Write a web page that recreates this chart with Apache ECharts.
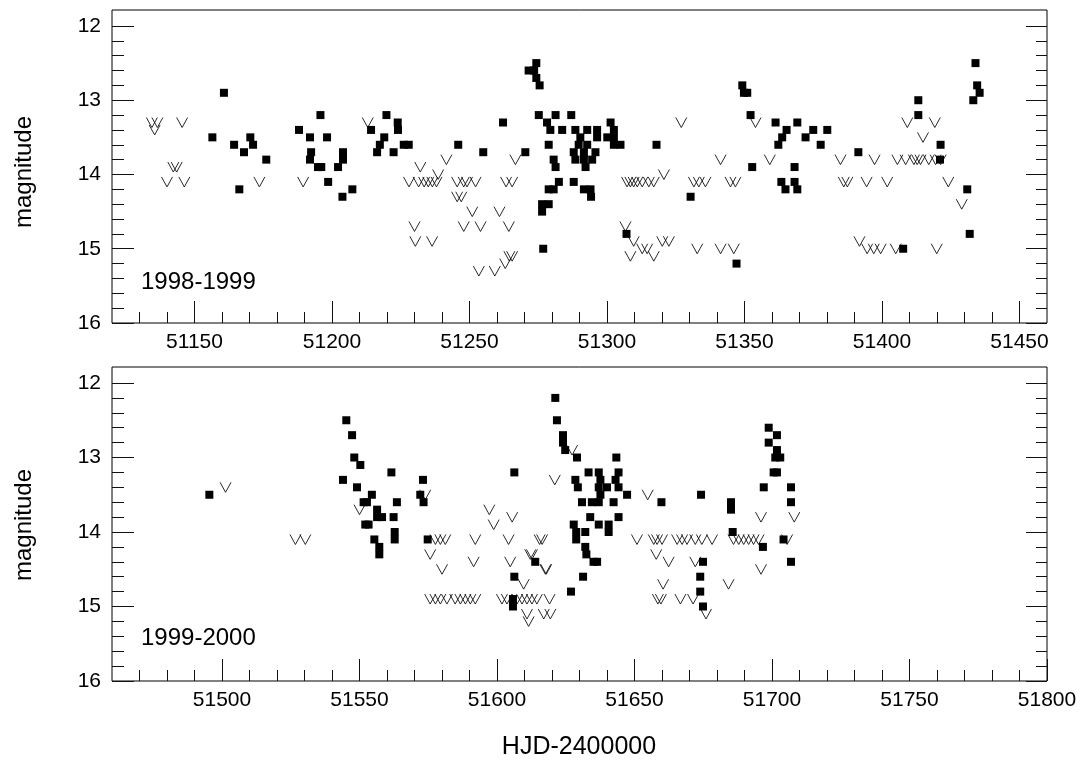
<!DOCTYPE html>
<html>
<head>
<meta charset="utf-8">
<script src="https://cdn.jsdelivr.net/npm/echarts@6/dist/echarts.min.js"></script>
<style>
html,body{margin:0;padding:0;background:#fff;}
#chart{width:1083px;height:766px;}
</style>
</head>
<body>
<div id="chart"></div>
<script>
// ---- Data (HJD-2400000, magnitude) ----
const detections1998 = [
[51156.5,13.5],[51160.7,12.9],[51164.4,13.6],[51166.3,14.2],[51168,13.7],[51170.3,13.5],[51171.3,13.6],[51176.1,13.8],
[51188,13.4],[51192,13.5],[51192.4,13.7],[51192,13.8],[51195.8,13.2],[51194.9,13.9],[51196.1,13.9],[51198.2,13.5],[51198.6,14.1],[51202.2,13.9],[51204,13.7],[51204,13.8],[51203.8,14.3],[51207.4,14.2],
[51219.8,13.2],[51223.9,13.3],[51214.2,13.4],[51224,13.4],[51219,13.5],[51217.4,13.6],[51216.4,13.7],[51222.4,13.7],[51226.1,13.6],[51227.9,13.6],
[51245.9,13.6],[51255,13.7],[51262.2,13.3],[51270.3,13.7],
[51271.5,12.6],[51273.5,12.6],[51274.3,12.5],[51274.3,12.7],[51275.5,12.8],
[51275.2,13.2],[51281.3,13.2],[51287,13.2],[51278.2,13.3],[51279.4,13.4],[51283.7,13.4],[51288.5,13.4],[51278.8,13.6],[51280.6,13.8],[51281.3,13.9],[51282.5,14.1],[51280.6,14.2],[51278.8,14.2],[51287.9,14.1],[51276.4,14.4],[51278.8,14.4],[51276.4,14.5],[51276.8,15.0],
[51292.8,13.4],[51296.4,13.4],[51301.3,13.3],[51302.5,13.4],[51290.3,13.5],[51296.4,13.5],[51300.1,13.5],[51302.5,13.5],[51289.7,13.6],[51292.8,13.6],[51302.5,13.6],[51304.9,13.6],[51287.9,13.7],[51291.6,13.7],[51295.8,13.7],[51288.5,13.8],[51291.6,13.8],[51294.6,13.8],[51292.2,13.9],[51291.6,14.2],[51294,14.2],[51294.2,14.3],
[51318,13.6],[51330.4,14.3],[51307.1,14.8],[51347.1,15.2],[51349.2,12.8],[51349.8,12.9],[51351,12.9],[51352.2,13.2],[51352.8,13.9],
[51361.3,13.3],[51365.3,13.4],[51363.7,13.5],[51362.3,13.6],[51369.2,13.3],[51372.2,13.5],[51368.2,13.9],[51363.4,14.1],[51364.9,14.2],[51368.2,14.1],[51369.2,14.2],
[51375,13.4],[51380.1,13.4],[51377.7,13.6],[51391.4,13.7],[51407.7,15.0],[51413.2,13.0],[51413.2,13.2],[51421.3,13.6],[51421.1,13.8],
[51431,14.2],[51431.9,14.8],[51433.2,13.0],[51434,12.5],[51434.6,12.8],[51435.5,12.9]
];
const upperLimits1998 = [
[51134.5,13.3],[51136.5,13.3],[51135.5,13.4],[51145.5,13.3],[51142.3,13.9],[51143.5,13.9],[51140,14.1],[51146.3,14.1],[51173.6,14.1],[51189.5,14.1],
[51213,13.3],[51241.6,13.8],[51232.1,13.9],[51238.6,14.0],
[51228,14.1],[51231.5,14.1],[51233.5,14.1],[51235,14.1],[51236.5,14.1],[51238,14.1],
[51245.5,14.1],[51247.9,14.1],[51249.1,14.1],[51252.2,14.1],[51263.3,14.1],[51265.5,14.1],
[51245.5,14.3],[51247,14.3],[51251,14.5],[51260.9,14.5],[51230,14.7],[51247.9,14.7],[51254,14.7],[51264.3,14.7],[51230.3,14.9],[51236.4,14.9],
[51253.4,15.3],[51259.2,15.3],[51263,15.2],[51264.5,15.1],[51265.5,15.1],[51266.7,13.8],
[51327,13.3],[51354,13.3],[51341.3,13.8],[51359.2,13.8],[51320.7,14.0],
[51307.3,14.1],[51308.5,14.1],[51309.7,14.1],[51311,14.1],[51312.8,14.1],[51315.2,14.1],[51317,14.1],
[51331.6,14.1],[51333.4,14.1],[51335.8,14.1],[51344.9,14.1],[51346.7,14.1],
[51306.7,14.7],[51309.7,14.9],[51312.8,15.0],[51314.6,15.0],[51308.5,15.1],[51317,15.1],[51320.1,14.9],[51322.5,14.9],[51332.8,15.0],[51341.3,15.0],[51346.1,15.0],
[51409.2,13.3],[51419.2,13.3],[51414.9,13.5],[51384.9,13.8],[51397.3,13.8],
[51405.6,13.8],[51408.6,13.8],[51411.6,13.8],[51412.8,13.8],[51414,13.8],[51417,13.8],[51419.5,13.8],[51421.3,13.8],
[51386.1,14.1],[51387.4,14.1],[51394.4,14.1],[51401.9,14.1],[51424.1,14.1],[51429,14.4],
[51391.8,14.9],[51394.6,15.0],[51397,15.0],[51399.5,15.0],[51405,15.0],[51419.9,15.0]
];
const detections1999 = [
[51495.4,13.5],
[51545.2,12.5],[51547.3,12.7],[51548.1,13.0],[51550.3,13.1],[51544,13.3],[51549.1,13.4],[51554.5,13.5],[51551.5,13.6],[51552.7,13.6],[51556.4,13.7],[51556.4,13.8],[51558.2,13.8],[51552.1,13.9],[51553.3,13.9],[51555.4,14.1],[51557.2,14.2],[51557.2,14.3],[51561.6,13.2],[51562.4,13.8],[51562.8,14.0],[51562.8,14.1],[51563.6,13.6],
[51573.1,13.3],[51572.1,13.5],[51573.3,13.6],[51574.8,14.1],
[51613.9,14.4],[51606.3,14.6],[51605.8,14.9],[51605.8,15.0],[51606.3,13.2],
[51621.2,12.2],[51621.8,12.5],[51624,12.7],[51624,12.8],[51624.8,12.9],[51629.1,13.0],[51628.5,13.3],[51629.4,13.4],[51627.9,13.9],[51628.8,14.0],[51628.8,14.1],[51626.9,14.8],
[51643.4,13.0],[51633.3,13.2],[51637,13.2],[51644.2,13.2],[51637.6,13.3],[51643.1,13.3],[51637,13.4],[51640,13.4],[51644.2,13.4],[51637.6,13.5],[51647.3,13.5],[51630.9,13.6],[51634.5,13.6],[51637,13.6],[51642.4,13.6],[51633.9,13.8],[51644.2,13.8],[51637,13.9],[51640.6,13.9],[51632.1,14.0],[51640.6,14.0],[51632.1,14.2],[51632.5,14.3],[51635.1,14.4],[51636.4,14.4],[51631.3,14.6],
[51659.8,13.6],[51674.2,13.5],[51674.9,14.4],[51673.9,14.6],[51673.9,14.8],[51674.9,15.0],
[51685.1,13.6],[51685.1,13.7],[51685.7,14.0],[51696.7,14.2],[51697,13.4],
[51698.8,12.6],[51701.8,12.7],[51698.8,12.8],[51701.8,12.9],[51701.2,13.0],[51703,13.0],[51700.6,13.2],[51701.8,13.2],[51706.9,13.4],[51706.9,13.6],[51704.2,14.1],[51706.9,14.4]
];
const upperLimits1999 = [
[51501.3,13.4],[51526.7,14.1],[51530.3,14.1],[51550,13.7],[51573.9,13.5],
[51577.6,14.1],[51579.4,14.1],[51581.2,14.1],[51575.7,14.3],[51580,14.5],[51592.1,14.1],[51591.5,14.4],[51604.2,14.1],[51604.8,14.4],[51597.2,13.7],[51605.5,13.8],[51598.8,13.9],
[51615.5,14.1],[51616.4,14.1],[51612.1,14.3],[51612.7,14.3],[51617.6,14.5],[51617.9,14.5],[51609.7,14.7],
[51575.7,14.9],[51577.6,14.9],[51579.4,14.9],[51581.8,14.9],[51584.8,14.9],[51586.7,14.9],[51588.5,14.9],[51590.3,14.9],[51592.1,14.9],
[51601.8,14.9],[51603.6,14.9],[51607.3,14.9],[51609.1,14.9],[51610.9,14.9],[51612.7,14.9],[51614.5,14.9],[51619.1,14.9],[51610.9,15.1],[51611.5,15.2],[51617,15.1],[51619.4,15.1],
[51621,13.3],[51627.3,12.9],
[51654.8,13.5],[51650.9,14.1],[51657,14.1],[51658.2,14.1],[51660,14.1],[51665.5,14.1],[51667.3,14.1],[51669.1,14.1],[51672.1,14.1],[51674.5,14.1],[51678.2,14.1],
[51657.9,14.3],[51662.4,14.4],[51672.1,14.4],[51676,15.1],[51660.4,14.7],[51658.5,14.9],[51659.6,14.9],[51666.7,14.9],[51671.3,14.9],[51684.2,14.7],
[51686,14.1],[51687.9,14.1],[51689.7,14.1],[51691.5,14.1],[51693.3,14.1],[51695.1,14.1],[51696,13.8],[51696,14.5],[51705.5,14.1],[51708.1,13.8]
];

// ---- Axis ranges and tick labels ----
const xRangeTop = [51120, 51460];
const xRangeBottom = [51460, 51800];
const xMajorTop = [51150, 51200, 51250, 51300, 51350, 51400, 51450];
const xMajorBottom = [51500, 51550, 51600, 51650, 51700, 51750, 51800];
const yRange = [11.785, 16];
const yMajor = [12, 13, 14, 15, 16];
const yMinor = [12.2,12.4,12.6,12.8,13.2,13.4,13.6,13.8,14.2,14.4,14.6,14.8,15.2,15.4,15.6,15.8];
const panelLabels = ['1998-1999', '1999-2000'];

function stepList(a, b, s) { const r = []; for (let v = a; v <= b + 1e-9; v += s) r.push(v); return r; }
const xMinorTop = stepList(51130, 51450, 10);
const xMinorBottom = stepList(51470, 51790, 10);

const FONT = "'Liberation Sans', Arial, Helvetica, sans-serif";
const tickLine = { color: '#111', width: 1 };
const plainNum = function (v) { return String(Math.round(v)); };

function xAxisPair(gi, range, major, minor) {
  return [
    { type: 'value', gridIndex: gi, min: range[0], max: range[1], position: 'bottom',
      axisLine: { show: false }, splitLine: { show: false },
      axisTick: { show: true, inside: true, length: 22, customValues: major, lineStyle: tickLine },
      axisLabel: { show: true, customValues: major, formatter: plainNum, margin: 9, fontSize: 21, color: '#000', fontFamily: FONT, showMinLabel: true, showMaxLabel: true } },
    { type: 'value', gridIndex: gi, min: range[0], max: range[1], position: 'bottom',
      axisLine: { show: false }, splitLine: { show: false },
      axisTick: { show: true, inside: true, length: 11, customValues: minor, lineStyle: tickLine },
      axisLabel: { show: false } }
  ];
}
function yAxes(gi) {
  const base = { type: 'value', gridIndex: gi, min: yRange[0], max: yRange[1], inverse: true,
    axisLine: { show: false }, splitLine: { show: false } };
  return [
    Object.assign({}, base, { position: 'left',
      axisTick: { show: true, inside: true, length: 22, customValues: yMajor, lineStyle: tickLine },
      axisLabel: { show: true, customValues: yMajor, formatter: plainNum, margin: 11, fontSize: 21, color: '#000', fontFamily: FONT } }),
    Object.assign({}, base, { position: 'left',
      axisTick: { show: true, inside: true, length: 12, customValues: yMinor, lineStyle: tickLine },
      axisLabel: { show: false } }),
    Object.assign({}, base, { position: 'right',
      axisTick: { show: true, inside: true, length: 21, customValues: yMajor, lineStyle: tickLine },
      axisLabel: { show: false } }),
    Object.assign({}, base, { position: 'right',
      axisTick: { show: true, inside: true, length: 11, customValues: yMinor, lineStyle: tickLine },
      axisLabel: { show: false } })
  ];
}

const vSymbol = 'path://M0,0 L5,10 L10,0';
function detSeries(xi, yi, data) {
  return { type: 'scatter', xAxisIndex: xi, yAxisIndex: yi, data: data, symbol: 'rect', symbolSize: 8,
    itemStyle: { color: '#000', opacity: 1 }, silent: true };
}
function limSeries(xi, yi, data) {
  return { type: 'scatter', xAxisIndex: xi, yAxisIndex: yi, data: data, symbol: vSymbol, symbolSize: [11, 10],
    itemStyle: { color: 'rgba(0,0,0,0)', borderColor: '#111', borderWidth: 0.9, opacity: 1 }, silent: true };
}

const chart = echarts.init(document.getElementById('chart'), null, { renderer: 'canvas' });
chart.setOption({
  animation: false,
  backgroundColor: '#fff',
  grid: [
    { left: 112, top: 10, width: 935, height: 313, show: true, borderColor: '#000', borderWidth: 1, backgroundColor: 'transparent', containLabel: false },
    { left: 112, top: 367, width: 935, height: 314, show: true, borderColor: '#000', borderWidth: 1, backgroundColor: 'transparent', containLabel: false }
  ],
  xAxis: [].concat(xAxisPair(0, xRangeTop, xMajorTop, xMinorTop), xAxisPair(1, xRangeBottom, xMajorBottom, xMinorBottom)),
  yAxis: [].concat(yAxes(0), yAxes(1)),
  series: [
    limSeries(0, 0, upperLimits1998),
    detSeries(0, 0, detections1998),
    limSeries(2, 4, upperLimits1999),
    detSeries(2, 4, detections1999)
  ],
  graphic: [
    { type: 'text', left: 141, top: 270, style: { text: panelLabels[0], font: '24px ' + FONT, fill: '#000' } },
    { type: 'text', left: 141, top: 626, style: { text: panelLabels[1], font: '24px ' + FONT, fill: '#000' } },
    { type: 'text', x: 24, y: 172, rotation: Math.PI / 2, style: { text: 'magnitude', font: '24px ' + FONT, fill: '#000', align: 'center', verticalAlign: 'middle' } },
    { type: 'text', x: 24, y: 525, rotation: Math.PI / 2, style: { text: 'magnitude', font: '24px ' + FONT, fill: '#000', align: 'center', verticalAlign: 'middle' } },
    { type: 'text', x: 579, y: 747, style: { text: 'HJD-2400000', font: '25px ' + FONT, fill: '#000', align: 'center', verticalAlign: 'middle' } }
  ]
});
</script>
</body>
</html>
